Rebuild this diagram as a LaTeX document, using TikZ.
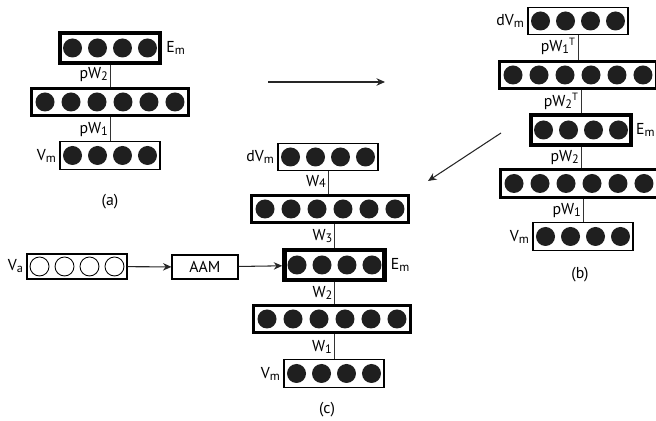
\documentclass[tikz,border=0pt]{standalone}
\usepackage{fontspec}
\setmainfont{PT Sans}
\usetikzlibrary{arrows.meta,calc,positioning}
\newcommand{\lsub}[1]{\raisebox{-0.25ex}{\scriptsize #1}}
\newcommand{\units}[4]{%
  \foreach \k in {1,...,#2}
    \path[#4] ([xshift={(\k-(#2+1)/2)*#3}]#1.center) circle[radius=0.19cm];
}
\tikzset{
  unitbox/.style={draw, inner sep=0pt, minimum height=0.55cm},
  inlayer/.style={unitbox, line width=0.6pt, minimum width=2cm},
  widelayer/.style={unitbox, line width=1.5pt, minimum width=3.15cm},
  codelayer/.style={unitbox, line width=2.6pt, minimum width=2cm, minimum height=0.6cm},
  unit/.style={fill=black!88},
  openunit/.style={draw, line width=0.5pt},
  lbl/.style={inner sep=1pt, font=\fontsize{9pt}{10pt}\selectfont},
  wire/.style={line width=0.5pt, draw=black!80},
  flow/.style={-{Stealth[length=1.7mm,width=1.5mm]}, line width=0.6pt, draw=black!85}
}
\begin{document}
\begin{tikzpicture}[x=0.02cm,y=-0.02cm]
  \useasboundingbox (0,0) rectangle (656,421);
  % (a) pretraining
  \node[codelayer] (aE) at (110,48) {};
  \node[widelayer] (aH) at (110,102) {};
  \node[inlayer] (aV) at (110,155.5) {};
  \units{aE}{4}{0.5cm}{unit}
  \units{aH}{6}{0.52cm}{unit}
  \units{aV}{4}{0.5cm}{unit}
  \draw[wire] (aV) -- (aH);
  \draw[wire] (aH) -- (aE);
  \node[lbl, anchor=east] (aw2) at ($(aE.south)!0.45!(aH.north)$) {pW\lsub{2}};
  \node[lbl, anchor=east] (aw1) at ($(aH.south)!0.5!(aV.north)$) {pW\lsub{1}};
  \node[lbl, right=0.04cm of aE] (aEl) {E\lsub{m}};
  \node[lbl, left=0.03cm of aV] (aVl) {V\lsub{m}};
  \node[lbl] (acap) at (110,202) {(a)};
  % (b) unrolled autoencoder
  \node[inlayer] (bD) at (578,21) {};
  \node[widelayer] (bH1) at (578,75) {};
  \node[codelayer] (bE) at (581,130) {};
  \node[widelayer] (bH2) at (579,183.5) {};
  \node[inlayer] (bV) at (583,236.5) {};
  \units{bD}{4}{0.5cm}{unit}
  \units{bH1}{6}{0.52cm}{unit}
  \units{bE}{4}{0.5cm}{unit}
  \units{bH2}{6}{0.52cm}{unit}
  \units{bV}{4}{0.5cm}{unit}
  \draw[wire] (bD.south) -- (bD.south |- bH1.north);
  \draw[wire] (bE.north) -- (bE.north |- bH1.south);
  \draw[wire] (bE.south) -- (bE.south |- bH2.north);
  \draw[wire] (bV.north) -- (bV.north |- bH2.south);
  \node[lbl, anchor=east] (bw1t) at ($(bD.south)!0.45!(bD.south |- bH1.north)$) {pW\lsub{1}\textsuperscript{T}};
  \node[lbl, anchor=east] (bw2t) at ($(bE.north)!0.5!(bE.north |- bH1.south)$) {pW\lsub{2}\textsuperscript{T}};
  \node[lbl, anchor=east] (bw2) at ($(bE.south)!0.5!(bE.south |- bH2.north)$) {pW\lsub{2}};
  \node[lbl, anchor=east] (bw1) at ($(bV.north)!0.5!(bV.north |- bH2.south)$) {pW\lsub{1}};
  \node[lbl, left=0.03cm of bD] (bDl) {dV\lsub{m}};
  \node[lbl, inner sep=0pt, right=0.05cm of bE] (bEl) {E\lsub{m}};
  \node[lbl, left=0.03cm of bV] (bVl) {V\lsub{m}};
  \node[lbl] (bcap) at (580,275) {(b)};
  % (c) fine tuning with AAM input
  \node[inlayer] (cD) at (328,157) {};
  \node[widelayer] (cH1) at (330,209) {};
  \node[codelayer] (cE) at (334.5,265) {};
  \node[widelayer] (cH2) at (332,319) {};
  \node[inlayer] (cV) at (334,373.5) {};
  \units{cD}{4}{0.5cm}{unit}
  \units{cH1}{6}{0.52cm}{unit}
  \units{cE}{4}{0.5cm}{unit}
  \units{cH2}{6}{0.52cm}{unit}
  \units{cV}{4}{0.5cm}{unit}
  \draw[wire] (cD.south) -- (cD.south |- cH1.north);
  \draw[wire] (cE.north) -- (cE.north |- cH1.south);
  \draw[wire] (cE.south) -- (cE.south |- cH2.north);
  \draw[wire] (cV.north) -- (cV.north |- cH2.south);
  \node[lbl, anchor=east] (cw4) at ($(cD.south)!0.45!(cD.south |- cH1.north)$) {W\lsub{4}};
  \node[lbl, anchor=east] (cw3) at ($(cE.north)!0.5!(cE.north |- cH1.south)$) {W\lsub{3}};
  \node[lbl, anchor=east] (cw2) at ($(cE.south)!0.5!(cE.south |- cH2.north)$) {W\lsub{2}};
  \node[lbl, anchor=east] (cw1) at ($(cV.north)!0.5!(cV.north |- cH2.south)$) {W\lsub{1}};
  \node[lbl, left=0.03cm of cD] (cDl) {dV\lsub{m}};
  \node[lbl, right=0.04cm of cE] (cEl) {E\lsub{m}};
  \node[lbl, left=0.03cm of cV] (cVl) {V\lsub{m}};
  \node[lbl] (ccap) at (327,410) {(c)};
  % audio input
  \node[inlayer, minimum height=0.5cm] (cA) at (77,266.5) {};
  \units{cA}{4}{0.5cm}{openunit}
  \node[lbl, left=0.03cm of cA] (cAl) {V\lsub{a}};
  \node[unitbox, line width=0.6pt, minimum width=1.32cm, minimum height=0.48cm, lbl] (aam) at (205,267) {AAM};
  \draw[flow] (cA) -- (aam);
  \draw[flow] (aam) -- (cE);
  % stage arrows
  \coordinate (s1) at (268,82);
  \coordinate (t1) at (385,82);
  \coordinate (s2) at (501,133);
  \coordinate (t2) at (428,181);
  \draw[flow] (s1) -- (t1);
  \draw[flow] (s2) -- (t2);
\end{tikzpicture}
\end{document}
